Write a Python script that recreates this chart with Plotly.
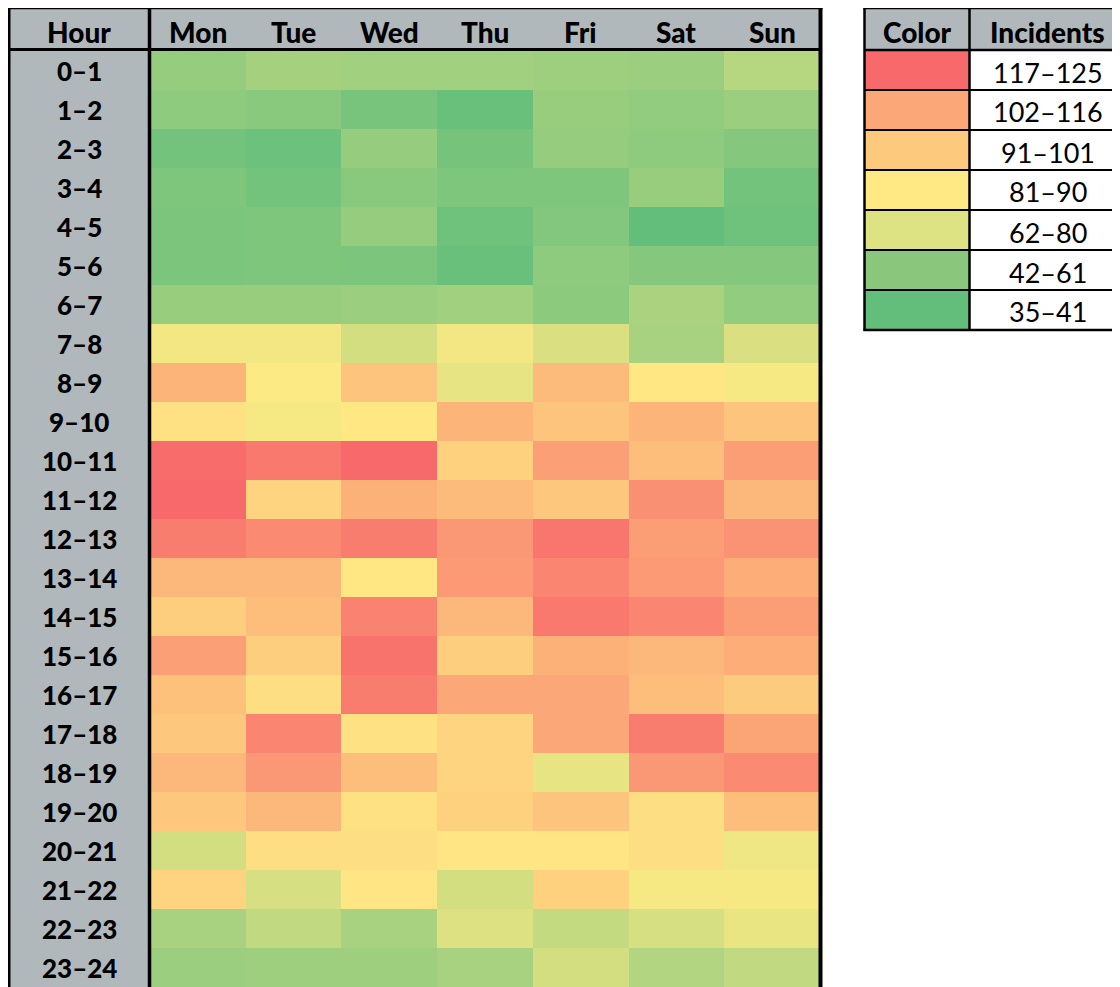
import plotly.graph_objects as go

# ---------------- data ----------------
days = ["Mon", "Tue", "Wed", "Thu", "Fri", "Sat", "Sun"]
hours = ["0–1", "1–2", "2–3", "3–4", "4–5", "5–6", "6–7", "7–8", "8–9", "9–10",
         "10–11", "11–12", "12–13", "13–14", "14–15", "15–16", "16–17", "17–18",
         "18–19", "19–20", "20–21", "21–22", "22–23", "23–24"]

mon = [51, 49, 40, 44, 43, 43, 52, 81, 102, 88, 124, 125, 119, 101, 94, 108, 98, 96, 101, 96, 71, 92, 57, 53]
tue = [56, 47, 38, 40, 44, 44, 52, 81, 84, 82, 120, 92, 115, 101, 99, 94, 89, 116, 111, 101, 89, 72, 65, 54]
wed = [55, 42, 51, 47, 51, 43, 53, 71, 97, 86, 125, 103, 119, 86, 117, 122, 119, 88, 99, 88, 89, 87, 57, 54]
thu = [55, 37, 41, 44, 39, 37, 55, 81, 77, 102, 93, 100, 111, 110, 101, 94, 106, 92, 92, 93, 87, 71, 74, 57]
fri = [54, 52, 51, 44, 45, 49, 48, 73, 100, 97, 108, 96, 121, 116, 120, 103, 106, 106, 77, 97, 87, 93, 66, 71]
sat = [53, 50, 49, 52, 35, 46, 58, 57, 86, 102, 99, 113, 109, 110, 116, 101, 99, 119, 111, 89, 89, 82, 72, 60]
sun = [62, 53, 46, 40, 39, 46, 50, 73, 82, 97, 109, 101, 112, 104, 109, 104, 95, 107, 115, 99, 80, 82, 78, 65]

legend_labels = ["117–125", "102–116", "91–101", "81–90", "62–80", "42–61", "35–41"]
legend_colors = ["#F8696B", "#FBA777", "#FDC97D", "#FFE984", "#DDE283", "#8AC77D", "#63BE7B"]

# ---------------- layout helpers ----------------
W, H = 1120, 987
OFF = 8  # page body margin: positions below are given in page pixels
def fx(x):
    return (x - OFF) / W
def fy(y):
    return 1 - (y - OFF) / H

GRAY = "#B1B8BC"
FONT = "Lato"
zmin, zmid, zmax = 35, 85, 125
colorscale = [[0, "#63BE7B"], [(zmid - zmin) / (zmax - zmin), "#FFEB84"], [1, "#F8696B"]]

z = [list(r) for r in zip(mon, tue, wed, thu, fri, sat, sun)]

fig = go.Figure(go.Heatmap(
    z=z, x=days, y=hours, zmin=zmin, zmax=zmax, colorscale=colorscale,
    showscale=False, xgap=0, ygap=0,
))

top, head_bot, bottom = 8, 50.5, 987
left, hour_div, right = 9, 149.5, 820.5

shapes = []
def rect(x0, y0, x1, y1, fill, layer="below"):
    shapes.append(dict(type="rect", xref="paper", yref="paper",
                       x0=fx(x0), x1=fx(x1), y0=fy(y0), y1=fy(y1),
                       fillcolor=fill, line=dict(width=0), layer=layer))
def line(x0, y0, x1, y1, w):
    shapes.append(dict(type="line", xref="paper", yref="paper",
                       x0=fx(x0), x1=fx(x1), y0=fy(y0), y1=fy(y1),
                       line=dict(color="black", width=w), layer="above"))

# main table backgrounds
rect(left, top, right, head_bot, GRAY)
rect(left, head_bot, hour_div, bottom + 10, GRAY)
# main table borders
line(left - 1.5, top, right + 2, top, 2.5)
line(left, top, left, bottom + 10, 3)
line(right, top, right, bottom + 10, 4)
line(left, head_bot - 1, right, head_bot - 1, 3)
line(hour_div, top, hour_div, bottom + 10, 3.5)

# legend table
lg_left, lg_div, lg_right = 864.5, 969.5, 1130
lg_top, lg_head, lg_row = 8, 50, 40
n = len(legend_labels)
lg_bot = lg_head + n * lg_row
rect(lg_left, lg_top, lg_right, lg_head, GRAY)
for i, c in enumerate(legend_colors):
    rect(lg_left, lg_head + i * lg_row, lg_div, lg_head + (i + 1) * lg_row, c)
line(lg_left - 1, lg_top, lg_right, lg_top, 2.5)
line(lg_left, lg_top, lg_left, lg_bot + 1, 2.5)
line(lg_div, lg_top, lg_div, lg_bot, 2.5)
line(lg_left, lg_head, lg_right, lg_head, 2.5)
for i in range(1, n):
    line(lg_left, lg_head + i * lg_row, lg_right, lg_head + i * lg_row, 2)
line(lg_left - 1, lg_bot, lg_right, lg_bot, 2.5)

annotations = []
head_font = dict(family=FONT, size=28, color="black", weight=900)
row_font = dict(family=FONT, size=26, color="black", weight=900)
HEAD_Y = 31.5
# header
annotations.append(dict(text="Hour", xref="paper", yref="paper", x=fx((left + hour_div) / 2),
                        y=fy(HEAD_Y), showarrow=False, font=head_font, xanchor="center", yanchor="middle"))
for d in days:
    annotations.append(dict(text=d, xref="x", yref="paper", x=d, y=fy(HEAD_Y), showarrow=False,
                            font=head_font, xanchor="center", yanchor="middle"))
for h in hours:
    annotations.append(dict(text=h, xref="paper", yref="y", x=fx((left + hour_div) / 2), y=h,
                            yshift=-1, showarrow=False, font=row_font, xanchor="center", yanchor="middle"))
# legend header and labels
annotations.append(dict(text="Color", xref="paper", yref="paper", x=fx((lg_left + lg_div) / 2),
                        y=fy(HEAD_Y), showarrow=False, font=head_font, xanchor="center", yanchor="middle"))
annotations.append(dict(text="Incidents", xref="paper", yref="paper", x=fx(1047),
                        y=fy(HEAD_Y), showarrow=False, font=head_font, xanchor="center", yanchor="middle"))
for i, lab in enumerate(legend_labels):
    annotations.append(dict(text=lab, xref="paper", yref="paper", x=fx(1048),
                            y=fy(lg_head + (i + 0.5) * lg_row + 2), showarrow=False,
                            font=dict(family=FONT, size=27, color="black"),
                            xanchor="center", yanchor="middle"))

fig.update_layout(
    width=W, height=H,
    margin=dict(l=0, r=0, t=0, b=0),
    paper_bgcolor="white", plot_bgcolor="white",
    xaxis=dict(domain=[fx(150), fx(820)], visible=False, fixedrange=True),
    yaxis=dict(domain=[fy(bottom), fy(head_bot)], range=[23.5, -0.5], visible=False, fixedrange=True),
    shapes=shapes, annotations=annotations,
    showlegend=False,
)

fig.write_html("out.html")
